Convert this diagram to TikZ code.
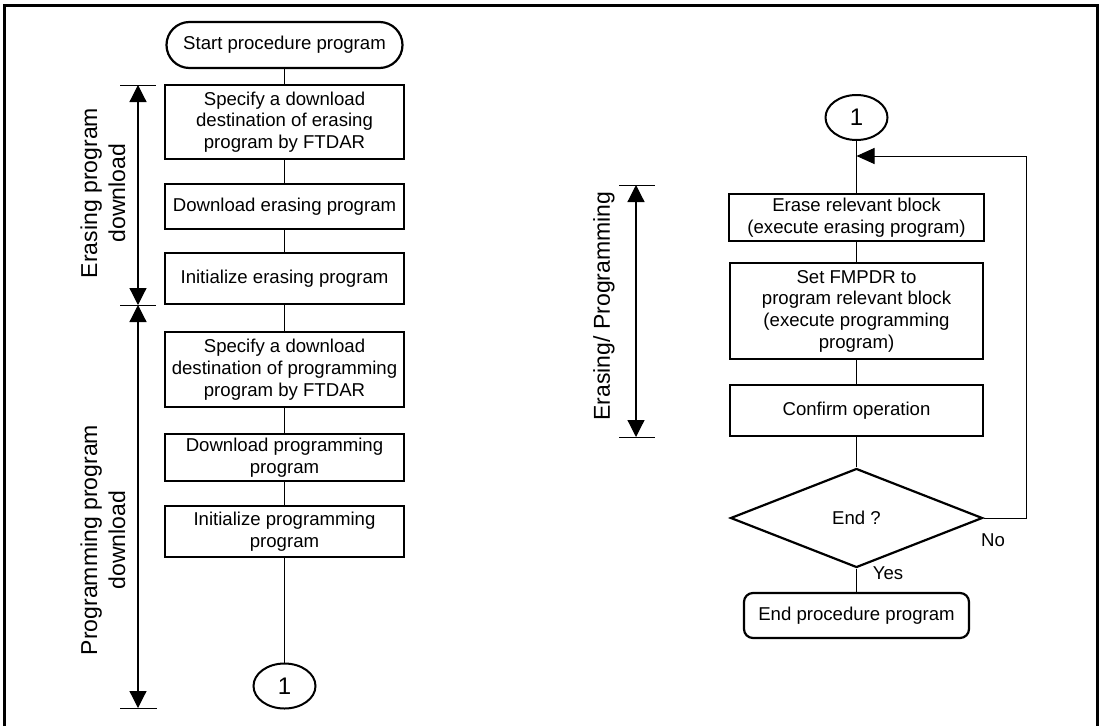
\documentclass[tikz,border=0pt]{standalone}
\usepackage{fontspec}
\setmainfont{Liberation Sans}
\usetikzlibrary{arrows.meta,positioning,shapes.geometric}

\begin{document}
\begin{tikzpicture}[x=1pt,y=-1pt,
  blk/.style={draw,line width=2.2pt,inner sep=0pt,align=center,font=\fontsize{18.6}{21.7}\selectfont},
  term/.style={blk,rounded corners=#1},
  conn/.style={line width=1pt},
  tip/.style={-{Triangle[length=18pt,width=16pt]}},
  span/.style={line width=1.2pt,{Triangle[length=17pt,width=17pt]}-{Triangle[length=17pt,width=17pt]}},
  side/.style={rotate=90,align=center,font=\fontsize{23}{28}\selectfont},
  onpage/.style={draw,ellipse,line width=2pt,minimum width=62pt,minimum height=45pt,inner sep=0pt,font=\fontsize{24}{28}\selectfont},
  lbl/.style={font=\fontsize{18.6}{21.7}\selectfont,inner sep=0pt}]
\useasboundingbox (0,0) rectangle (1100,726);
\draw[line width=3pt] (4,726)--(4,5)--(1097,5)--(1097,726);
% left column: program download
\node[term=23pt,minimum width=236pt,minimum height=46pt] (start) at (284.5,45) {Start procedure program};
\node[blk,minimum width=239pt,minimum height=74pt] (specer) at (284.5,122) {Specify a download\\destination of erasing\\program by FTDAR};
\node[blk,minimum width=239pt,minimum height=45pt] (dler) at (284.5,206.5) {Download erasing program};
\node[blk,minimum width=239pt,minimum height=51pt] (inier) at (284.5,278.5) {Initialize erasing program};
\node[blk,minimum width=239pt,minimum height=75pt] (specpr) at (284.5,369.5) {Specify a download\\destination of programming\\program by FTDAR};
\node[blk,minimum width=239pt,minimum height=47pt] (dlpr) at (284.5,457.5) {Download programming\\program};
\node[blk,minimum width=239pt,minimum height=51pt] (inipr) at (284.5,531.5) {Initialize programming\\program};
\node[onpage] (outA) at (284.5,686) {1};
\draw[conn] (start)--(specer)--(dler)--(inier)--(specpr)--(dlpr)--(inipr)--(outA);
\draw[conn] (120,85)--(156,85);\draw[conn] (120,305)--(156,305);\draw[conn] (120,708)--(157,708);
\draw[span] (138,85)--(138,305);\draw[span] (138,305)--(138,708);
\node[side] (erdl) at (103,193) {Erasing program\\download};
\node[side] (prdl) at (103,540) {Programming program\\download};
% right column: erasing / programming loop
\node[onpage] (inA) at (856.5,117.5) {1};
\coordinate (join) at (856.5,156);
\node[blk,minimum width=255pt,minimum height=47pt] (erase) at (856.5,217.5) {Erase relevant block\\(execute erasing program)};
\node[blk,minimum width=253pt,minimum height=96pt] (prog) at (856.5,311) {Set FMPDR to\\program relevant block\\(execute programming\\program)};
\node[blk,minimum width=253pt,minimum height=51pt] (conf) at (856.5,410.5) {Confirm operation};
\node[blk,diamond,minimum width=252pt,minimum height=99pt] (dec) at (856.5,518) {End ?};
\node[term=9pt,minimum width=225pt,minimum height=45pt] (fin) at (856.5,615.5) {End procedure program};
\draw[conn] (inA)--(erase)--(prog)--(conf)--(dec)--(fin);
\draw[conn,tip] (dec.east)--(1026,518)|-(join);
\node[lbl] (no) at (993,540) {No};
\node[lbl] (yes) at (888,573) {Yes};
\draw[conn] (619,185)--(655,185);\draw[conn] (619,437)--(655,437);
\draw[span] (636,185)--(636,437);
\node[side] (erpr) at (604,306) {Erasing/ Programming};
\end{tikzpicture}
\end{document}
